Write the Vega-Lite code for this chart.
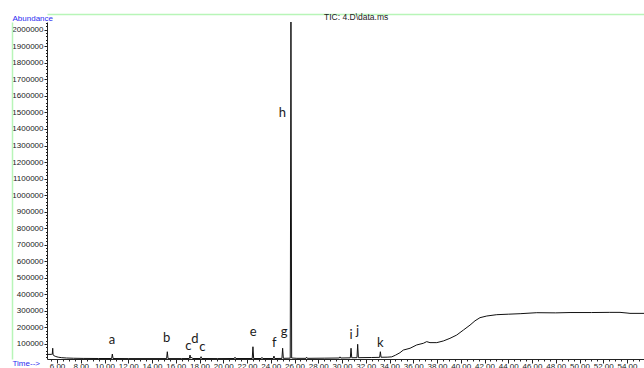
{
  "$schema": "https://vega.github.io/schema/vega-lite/v6.json",
  "autosize": "none",
  "width": 597,
  "height": 337,
  "padding": {"left": 47, "top": 22, "right": 0, "bottom": 9},
  "background": "white",
  "config": {"view": {"stroke": null}},
  "title": {"text": "TIC: 4.D\\data.ms", "frame": "group", "anchor": "start", "dx": 277, "dy": 16, "offset": 2, "baseline": "alphabetic", "font": "Liberation Sans Narrow, Liberation Sans", "fontSize": 8.5, "fontWeight": "normal", "color": "#222222"},
  "datasets": {
    "tic": [
      {"t": 5.16, "v": 37000}, {"t": 5.55, "v": 37000}, {"t": 5.6, "v": 37500}, {"t": 5.64, "v": 74000}, {"t": 5.67, "v": 34000},
      {"t": 5.75, "v": 29000}, {"t": 5.9, "v": 24000}, {"t": 6.1, "v": 20000}, {"t": 6.4, "v": 17000}, {"t": 6.8, "v": 15000},
      {"t": 7.4, "v": 13500}, {"t": 8.2, "v": 12500}, {"t": 9.5, "v": 12000}, {"t": 10.6, "v": 12000}, {"t": 10.66, "v": 39000},
      {"t": 10.72, "v": 12000}, {"t": 12.0, "v": 11500}, {"t": 14.0, "v": 11500}, {"t": 15.23, "v": 11500}, {"t": 15.29, "v": 53000},
      {"t": 15.35, "v": 11500}, {"t": 16.5, "v": 11500}, {"t": 17.14, "v": 12000}, {"t": 17.2, "v": 33000}, {"t": 17.26, "v": 14000},
      {"t": 17.35, "v": 19000}, {"t": 17.42, "v": 12000}, {"t": 18.07, "v": 12000}, {"t": 18.13, "v": 23000}, {"t": 18.19, "v": 12000},
      {"t": 19.5, "v": 11500}, {"t": 20.93, "v": 12000}, {"t": 20.99, "v": 20000}, {"t": 21.05, "v": 12000}, {"t": 22.44, "v": 12000},
      {"t": 22.5, "v": 83000}, {"t": 22.56, "v": 12000}, {"t": 23.2, "v": 12000}, {"t": 23.26, "v": 19000}, {"t": 23.32, "v": 12000},
      {"t": 24.21, "v": 12000}, {"t": 24.27, "v": 27000}, {"t": 24.33, "v": 12000}, {"t": 24.94, "v": 12500}, {"t": 25.0, "v": 74000},
      {"t": 25.06, "v": 13000}, {"t": 25.64, "v": 14000}, {"t": 25.7, "v": 2060000}, {"t": 25.76, "v": 15000}, {"t": 26.2, "v": 13000},
      {"t": 26.97, "v": 13000}, {"t": 27.02, "v": 20000}, {"t": 27.08, "v": 13000}, {"t": 28.5, "v": 14000}, {"t": 29.78, "v": 15000},
      {"t": 29.83, "v": 22000}, {"t": 29.89, "v": 15000}, {"t": 30.7, "v": 16000}, {"t": 30.76, "v": 74000}, {"t": 30.82, "v": 16500},
      {"t": 31.26, "v": 17000}, {"t": 31.32, "v": 98000}, {"t": 31.38, "v": 17000}, {"t": 32.5, "v": 18000}, {"t": 33.17, "v": 19000},
      {"t": 33.23, "v": 53000}, {"t": 33.29, "v": 19500}, {"t": 33.8, "v": 20000}, {"t": 34.19, "v": 22000}, {"t": 34.5, "v": 32000},
      {"t": 34.88, "v": 47000}, {"t": 35.16, "v": 63000}, {"t": 35.73, "v": 74000}, {"t": 36.29, "v": 94000}, {"t": 36.85, "v": 104000},
      {"t": 37.13, "v": 114000}, {"t": 37.41, "v": 108000}, {"t": 37.98, "v": 108000}, {"t": 38.53, "v": 118000}, {"t": 39.09, "v": 134000},
      {"t": 39.66, "v": 154000}, {"t": 40.22, "v": 184000}, {"t": 40.78, "v": 214000}, {"t": 41.2, "v": 240000}, {"t": 41.62, "v": 259000},
      {"t": 42.19, "v": 269000}, {"t": 43.03, "v": 277000}, {"t": 44.0, "v": 280000}, {"t": 45.0, "v": 283000}, {"t": 46.4, "v": 289000},
      {"t": 48.0, "v": 288000}, {"t": 49.2, "v": 290000}, {"t": 51.0, "v": 290000}, {"t": 52.5, "v": 291000}, {"t": 53.41, "v": 291000},
      {"t": 54.0, "v": 287000}, {"t": 54.25, "v": 285000}, {"t": 55.43, "v": 285000}
    ],
    "peaks": [
      {"label": "a", "t": 10.63, "v": 124000},
      {"label": "b", "t": 15.24, "v": 134000},
      {"label": "c", "t": 17.06, "v": 89000},
      {"label": "d", "t": 17.62, "v": 130000},
      {"label": "c", "t": 18.24, "v": 80000},
      {"label": "e", "t": 22.53, "v": 174000},
      {"label": "f", "t": 24.3, "v": 104000},
      {"label": "g", "t": 25.12, "v": 170000},
      {"label": "h", "t": 24.97, "v": 1498000},
      {"label": "i", "t": 30.76, "v": 154000},
      {"label": "j", "t": 31.32, "v": 178000},
      {"label": "k", "t": 33.23, "v": 106000}
    ]
  },
  "resolve": {"axis": {"x": "independent", "y": "independent"}},
  "layer": [
    {
      "data": {"name": "tic"},
      "mark": {"type": "line", "color": "#111111", "strokeWidth": 1, "clip": true, "interpolate": "linear"},
      "encoding": {
        "x": {"field": "t", "type": "quantitative",
          "scale": {"domain": [5.158, 55.43], "nice": false, "zero": false},
          "axis": {"orient": "bottom", "tickCount": 101, "grid": false, "domainColor": "#222222", "tickColor": "#222222",
            "tickSize": {"condition": {"test": "datum.value % 2 === 0", "value": 4}, "value": 2},
            "labelExpr": "datum.value % 2 === 0 ? format(datum.value, '.2f') : ''",
            "labelOverlap": false, "labelFlush": false, "labelFont": "Liberation Sans Narrow, Liberation Sans", "labelFontSize": 8, "labelColor": "#222222", "labelPadding": -1, "labelBaseline": "top",
            "title": "Time-->", "titleFont": "Liberation Sans Narrow, Liberation Sans", "titleFontSize": 8, "titleFontWeight": "normal", "titleColor": "#2b2bf0",
            "titleAlign": "left", "titleBaseline": "top", "titleX": -35, "titleY": 0}},
        "y": {"field": "v", "type": "quantitative",
          "scale": {"domain": [9000, 2047000], "nice": false, "zero": false},
          "axis": {"orient": "left", "tickCount": 100, "grid": false, "domainColor": "#222222", "tickColor": "#222222",
            "tickSize": {"condition": {"test": "datum.value % 100000 === 0", "value": 3}, "value": 1.5},
            "labelExpr": "datum.value % 100000 === 0 ? format(datum.value, 'd') : ''",
            "labelOverlap": false, "labelFlush": false, "labelFont": "Liberation Sans Narrow, Liberation Sans", "labelFontSize": 8, "labelColor": "#222222", "labelPadding": 1,
            "title": "Abundance", "titleFont": "Liberation Sans Narrow, Liberation Sans", "titleFontSize": 8, "titleFontWeight": "normal", "titleColor": "#2b2bf0",
            "titleAngle": 0, "titleAlign": "left", "titleBaseline": "alphabetic", "titleX": -35, "titleY": -2}}
      }
    },
    {
      "data": {"name": "peaks"},
      "mark": {"type": "text", "font": "Lato", "fontSize": 13, "color": "#1a1a1a", "align": "center", "baseline": "middle"},
      "encoding": {
        "x": {"field": "t", "type": "quantitative",
          "axis": {"orient": "top", "offset": 8, "domainColor": "#b8f5b8", "domainWidth": 1.5, "ticks": false, "labels": false, "grid": false, "title": null}},
        "y": {"field": "v", "type": "quantitative",
          "axis": {"orient": "left", "offset": 35, "domainColor": "#b8f5b8", "domainWidth": 1.5, "ticks": false, "labels": false, "grid": false, "title": null}},
        "text": {"field": "label"}
      }
    }
  ]
}
